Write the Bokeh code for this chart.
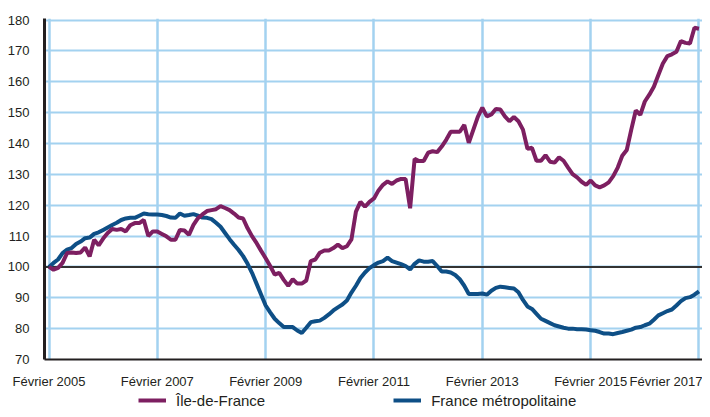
from bokeh.plotting import figure
from bokeh.layouts import column
from bokeh.models import FixedTicker, Span, Legend, LegendItem, Range1d
from bokeh.embed import file_html
from bokeh.resources import INLINE

# Monthly index, base 100 = Février 2005, up to Février 2017
idf = [100, 99.1, 99.7, 101.3, 104.5, 104.7, 104.5, 104.7, 106.3, 103.4,
       108.8, 107, 109.2, 111, 112.3, 112, 112.3, 111.5, 113.5, 114.2,
       114.2, 115.2, 110, 111.5, 111.5, 110.7, 109.9, 108.8, 108.8, 112,
       111.8, 110.4, 113.6, 115.8, 117, 118.1, 118.4, 118.7, 119.7, 119.1,
       118.4, 117.3, 116, 115.7, 112.5, 109.9, 107.7, 105.2, 102.8, 100.3,
       97.5, 98.1, 95.8, 93.9, 96, 94.6, 94.6, 95.6, 101.9, 102.4,
       104.6, 105.3, 105.3, 106.1, 107.2, 106.1, 106.7, 108.9, 117.9, 121.1,
       119.5, 121.1, 122.2, 124.8, 126.6, 127.7, 126.9, 128, 128.5, 128.5,
       119, 135, 134.3, 134.3, 137, 137.5, 137.2, 139, 141.2, 143.8,
       143.8, 143.8, 146, 140.2, 144.4, 148.6, 151.6, 148.8, 149.4, 151.2,
       151, 148.8, 147.2, 148.6, 147.2, 144.5, 138.3, 138.6, 134.4, 134.4,
       136.2, 134.1, 133.8, 135.5, 134.4, 132.2, 130.1, 129, 127.6, 126.6,
       128, 126.4, 125.8, 126.4, 127.4, 129.4, 132.2, 136, 137.9, 144.5,
       150.7, 149.3, 153.6, 155.8, 158.4, 162.2, 165.9, 168.3, 168.9, 169.7,
       173.2, 172.6, 172.4, 177.5, 177.2]

fm = [100, 101.3, 102.4, 104.5, 105.6, 106.1, 107.4, 108.2, 109.3, 109.5,
      110.7, 111.2, 112, 112.8, 113.6, 114.3, 115.2, 115.7, 115.9, 115.9,
      116.6, 117.3, 117.1, 117, 117, 116.8, 116.5, 116, 115.9, 117.3,
      116.6, 116.8, 117.1, 116.6, 116, 115.9, 115.5, 114.3, 113, 111,
      109, 107.2, 105.5, 103.5, 101, 98, 94.5, 91, 87.5, 85.3,
      83.2, 81.8, 80.5, 80.5, 80.5, 79.4, 78.6, 80.3, 82.1, 82.4,
      82.6, 83.5, 84.6, 85.9, 86.9, 87.8, 89.1, 91.7, 93.9, 96.4,
      98.2, 99.6, 100.6, 101.4, 101.9, 103, 101.9, 101.4, 100.9, 100.3,
      99.2, 101, 102.1, 101.7, 101.7, 101.9, 100.3, 98.5, 98.5, 98.2,
      97.4, 96, 93.9, 91.2, 91.2, 91.2, 91.4, 91, 92.3, 93.2,
      93.6, 93.4, 93.2, 93, 91.8, 89.3, 87.2, 86.4, 84.8, 83.2,
      82.5, 81.8, 81.1, 80.7, 80.3, 80, 80, 79.8, 79.8, 79.7,
      79.5, 79.3, 78.9, 78.4, 78.4, 78.2, 78.6, 78.9, 79.3, 79.7,
      80.3, 80.5, 81.1, 81.6, 82.9, 84.3, 85, 85.7, 86.2, 87.5,
      88.9, 89.9, 90.2, 91, 92.1]

months = list(range(len(idf)))
grid_pos = [0, 24, 48, 72, 96, 120, 144]
tick_labels = ["Février 2005", "Février 2007", "Février 2009", "Février 2011",
               "Février 2013", "Février 2015", "Février 2017"]
y_ticks = [70, 80, 90, 100, 110, 120, 130, 140, 150, 160, 170, 180]
series_names = ["Île-de-France", "France métropolitaine"]

PURPLE = "#7d1f61"
BLUE = "#0e4f86"
GRID = "#a3d2f0"
TXT = "#231f20"
FONT = "Liberation Sans"

p = figure(width=702, height=391, x_range=Range1d(-1, 144.78), y_range=Range1d(70, 180.5),
           output_backend="svg", toolbar_location=None,
           min_border_left=44, min_border_right=0, min_border_top=18, min_border_bottom=28)
p.outline_line_color = None
p.background_fill_color = "white"
p.border_fill_color = "white"

# label anchors: the last one is pulled left so it stays on the page
label_pos = grid_pos[:-1] + [grid_pos[-1] - 5.3]
p.xaxis.ticker = FixedTicker(ticks=label_pos)
p.xaxis.major_label_overrides = {pos: lab for pos, lab in zip(label_pos, tick_labels)}
p.yaxis.ticker = FixedTicker(ticks=y_ticks)

for ax in (p.xaxis[0], p.yaxis[0]):
    ax.major_tick_line_color = None
    ax.minor_tick_line_color = None
    ax.major_label_text_font = FONT
    ax.major_label_text_font_size = "13px"
    ax.major_label_text_color = TXT
    ax.axis_line_color = TXT
p.xaxis.axis_line_width = 2
p.yaxis.axis_line_width = 3
p.xaxis.major_label_standoff = 8
p.yaxis.major_label_standoff = 9

p.xgrid.ticker = FixedTicker(ticks=grid_pos)
p.ygrid.ticker = FixedTicker(ticks=y_ticks)
p.xgrid.grid_line_color = GRID
p.xgrid.grid_line_width = 2.5
p.ygrid.grid_line_color = GRID
p.ygrid.grid_line_width = 2

p.add_layout(Span(location=100, dimension="width", line_color="#333333",
                  line_width=2, level="underlay"))

p.line(months, fm, line_color=BLUE, line_width=4)
p.line(months, idf, line_color=PURPLE, line_width=4)

# legend strip below the chart (its own lines sit outside its view, only the keys show)
pl = figure(width=702, height=18, output_backend="svg", toolbar_location=None,
            x_axis_type=None, y_axis_type=None,
            x_range=Range1d(0, 1), y_range=Range1d(0, 1),
            min_border_left=0, min_border_right=0, min_border_top=0, min_border_bottom=0)
pl.outline_line_color = None
pl.xgrid.visible = False
pl.ygrid.visible = False
l_idf = pl.line(months, idf, line_color=PURPLE, line_width=4)
l_fm = pl.line(months, fm, line_color=BLUE, line_width=4)
legend = Legend(items=[LegendItem(label=series_names[0], renderers=[l_idf]),
                       LegendItem(label=series_names[1], renderers=[l_fm])],
                orientation="horizontal", location=(94, 0),
                spacing=128, label_standoff=10, glyph_width=28, glyph_height=18,
                label_height=18, padding=0, margin=0,
                border_line_color=None, background_fill_alpha=0,
                label_text_font=FONT, label_text_font_size="15px",
                label_text_color=TXT)
pl.add_layout(legend)

layout = column(p, pl, spacing=0)
open("out.html", "w").write(file_html(layout, INLINE))
